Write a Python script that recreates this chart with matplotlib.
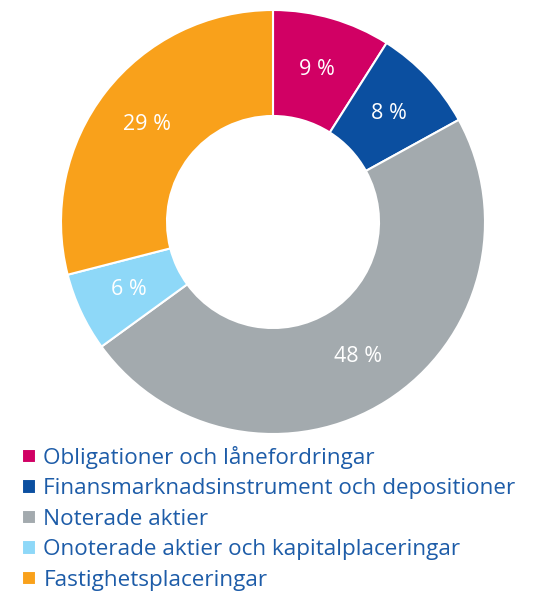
import matplotlib
matplotlib.use("Agg")
import matplotlib.pyplot as plt

plt.rcParams['font.family'] = ['Open Sans', 'DejaVu Sans']

# Allocation shares (percent), clockwise from 12 o'clock
categories = [
    'Obligationer och lånefordringar',
    'Finansmarknadsinstrument och depositioner',
    'Noterade aktier',
    'Onoterade aktier och kapitalplaceringar',
    'Fastighetsplaceringar',
]
shares = [9, 8, 48, 6, 29]
colors = ['#D10064', '#0B4FA0', '#A3AAAE', '#8ED8F8', '#F9A11B']
text_blue = '#1D5CA8'

fig = plt.figure(figsize=(5.46, 5.93), dpi=100)
ax = fig.add_axes([61 / 546, 1 - 434 / 593, 424 / 546, 424 / 593])

wedges, texts, autotexts = ax.pie(
    shares, colors=colors, startangle=90, counterclock=False,
    autopct=lambda p: f'{p:.0f} %', pctdistance=0.75,
    wedgeprops=dict(width=0.5, edgecolor='white', linewidth=1.5),
    textprops=dict(color='white', fontsize=15.5),
)
ax.set_xlim(-1, 1)
ax.set_ylim(-1, 1)
ax.set_aspect('equal')

fig.legend(
    wedges, categories, loc='upper left',
    bbox_to_anchor=(22 / 546, 1 - 446 / 593), frameon=False,
    fontsize=16.2, labelcolor=text_blue,
    handlelength=0.6, handleheight=0.6, handletextpad=0.35,
    labelspacing=0.42, borderpad=0, borderaxespad=0,
)

fig.savefig('out.png', dpi=100)
